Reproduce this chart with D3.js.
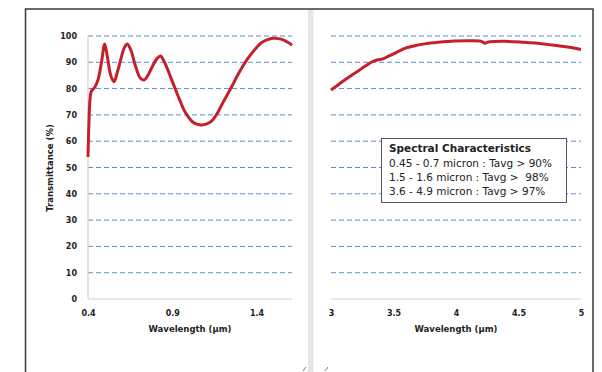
<!DOCTYPE html>
<html>
<head>
<meta charset="utf-8">
<script src="https://cdn.jsdelivr.net/npm/d3@7"></script>
<style>
  html, body { margin: 0; padding: 0; background: #fff; }
  svg { display: block; }
  text { font-family: "DejaVu Sans", sans-serif; }
</style>
</head>
<body>
<svg id="chart" width="602" height="372"></svg>
<script>
// ---- Data ----
const leftWavelength = [0.4, 0.405, 0.412, 0.42, 0.44, 0.46, 0.48, 0.499, 0.515, 0.535, 0.554, 0.575, 0.594, 0.615, 0.633, 0.655, 0.683, 0.71, 0.732, 0.755, 0.781, 0.81, 0.831, 0.85, 0.87, 0.895, 0.92, 0.945, 0.969, 0.995, 1.019, 1.045, 1.074, 1.105, 1.133, 1.163, 1.193, 1.222, 1.252, 1.281, 1.311, 1.341, 1.371, 1.40, 1.43, 1.465, 1.499, 1.53, 1.558, 1.585, 1.61];
const leftTransmittance = [54, 66, 76, 79, 80.5, 83.5, 90, 97, 92, 85, 82.6, 86.5, 91, 95.5, 97, 94.5, 88.3, 84, 83.3, 85, 88.3, 91.5, 92.4, 90.5, 87.7, 83.5, 79.5, 75.5, 71.9, 69.2, 67.4, 66.5, 66.2, 66.6, 67.6, 70.2, 73.8, 77.2, 80.7, 84.3, 87.7, 90.8, 93.4, 95.6, 97.5, 98.6, 99.1, 99, 98.5, 97.6, 96.5];
const rightWavelength = [3, 3.05, 3.11, 3.165, 3.22, 3.275, 3.33, 3.37, 3.41, 3.45, 3.51, 3.55, 3.59, 3.67, 3.75, 3.86, 3.99, 4.11, 4.19, 4.215, 4.23, 4.25, 4.27, 4.38, 4.54, 4.7, 4.83, 4.92, 5];
const rightTransmittance = [79.5, 81.2, 83.3, 85.1, 86.8, 88.6, 90.2, 90.9, 91.2, 92.1, 93.4, 94.4, 95.3, 96.3, 97, 97.6, 98.1, 98.2, 98.1, 97.7, 97.2, 97.6, 97.8, 98, 97.6, 97, 96.2, 95.6, 94.9];
const yTicks = [0, 10, 20, 30, 40, 50, 60, 70, 80, 90, 100];
const leftXTicks = [0.4, 0.9, 1.4];
const rightXTicks = [3, 3.5, 4, 4.5, 5];
const legendTitle = "Spectral Characteristics";
const legendLines = ["0.45 - 0.7 micron : Tavg > 90%", "1.5 - 1.6 micron : Tavg >  98%", "3.6 - 4.9 micron : Tavg > 97%"];
const yTitle = "Transmittance (%)";
const xTitle = "Wavelength (µm)";

// ---- Layout ----
const svg = d3.select("#chart");
svg.append("rect").attr("width", 602).attr("height", 372).attr("fill", "#fff");

const y = d3.scaleLinear().domain([0, 100]).range([299, 36]);
const xL = d3.scaleLinear().domain([0.4, 1.61]).range([88, 292]);
const xR = d3.scaleLinear().domain([3, 5]).range([331, 581]);

// outer frame
svg.append("path")
  .attr("d", "M25.5,380 L25.5,9 L593,9 L593,380")
  .attr("fill", "none").attr("stroke", "#3a3a3a").attr("stroke-width", 1.5);

// separator band
svg.append("rect").attr("x", 308).attr("y", 10).attr("width", 5.5).attr("height", 362).attr("fill", "#e6e6e6");

// little marks at bottom
svg.append("path").attr("d", "M303,371 L306,367").attr("stroke", "#555").attr("stroke-width", 0.8);
svg.append("path").attr("d", "M325,371 L328,367").attr("stroke", "#555").attr("stroke-width", 0.8);

function panel(x, xTicks, wl, tr, showY) {
  const g = svg.append("g");
  const [x0, x1] = x.range();
  // grid
  g.selectAll("line.grid").data(yTicks.filter(d => d > 0)).join("line")
    .attr("x1", x0).attr("x2", x1)
    .attr("y1", d => y(d)).attr("y2", d => y(d))
    .attr("stroke", "#5a8ed0").attr("stroke-width", 1).attr("stroke-dasharray", "5,3");
  // x baseline
  g.append("line").attr("x1", x0).attr("x2", x1).attr("y1", 299).attr("y2", 299)
    .attr("stroke", "#d0d0d0").attr("stroke-width", 1.2);
  if (showY) {
    g.append("line").attr("x1", x0).attr("x2", x0).attr("y1", 36).attr("y2", 299)
      .attr("stroke", "#d0d0d0").attr("stroke-width", 1.2);
    const ya = g.append("g").attr("transform", `translate(${x0},0)`)
      .call(d3.axisLeft(y).tickValues(yTicks).tickSize(0).tickPadding(11).tickFormat(d3.format("d")));
    ya.select(".domain").remove();
    ya.selectAll("text").attr("font-size", 8).attr("font-weight", "bold").attr("fill", "#222")
      .attr("font-family", "DejaVu Sans");
  }
  const xa = g.append("g").attr("transform", "translate(0,299)")
    .call(d3.axisBottom(x).tickValues(xTicks).tickSize(0).tickPadding(11).tickFormat(d => String(d)));
  xa.select(".domain").remove();
  xa.selectAll("text").attr("font-size", 8).attr("font-weight", "bold").attr("fill", "#222")
    .attr("font-family", "DejaVu Sans");
  // x title
  g.append("text").attr("x", (x0 + x1) / 2).attr("y", 332).attr("text-anchor", "middle")
    .attr("font-size", 8.5).attr("font-weight", "bold").attr("fill", "#222").text(xTitle);
  // curve
  const pts = wl.map((w, i) => [w, tr[i]]);
  g.append("path").datum(pts)
    .attr("d", d3.line().x(d => x(d[0])).y(d => y(d[1])).curve(d3.curveCatmullRom.alpha(0.5)))
    .attr("fill", "none").attr("stroke", "#c4202b").attr("stroke-width", 3)
    .attr("stroke-linejoin", "round").attr("stroke-linecap", "butt");
  return g;
}

panel(xL, leftXTicks, leftWavelength, leftTransmittance, true);
panel(xR, rightXTicks, rightWavelength, rightTransmittance, false);

// y title
svg.append("text").attr("transform", "translate(53,168) rotate(-90)")
  .attr("text-anchor", "middle").attr("font-size", 8.5).attr("font-weight", "bold").attr("fill", "#222")
  .text(yTitle);

// legend
const lg = svg.append("g");
lg.append("rect").attr("x", 381.5).attr("y", 138.5).attr("width", 185).attr("height", 64)
  .attr("fill", "#fff").attr("stroke", "#555").attr("stroke-width", 1);
lg.append("text").attr("x", 389).attr("y", 152).attr("font-size", 10.5).attr("font-weight", "bold")
  .attr("font-family", "DejaVu Sans Condensed, DejaVu Sans")
  .attr("fill", "#222").text(legendTitle);
lg.selectAll("text.l").data(legendLines).join("text").attr("class", "l")
  .attr("x", 389).attr("y", (d, i) => 166.5 + i * 14)
  .attr("font-size", 10.5).attr("fill", "#222").style("white-space", "pre")
  .text(d => d);
</script>
</body>
</html>
